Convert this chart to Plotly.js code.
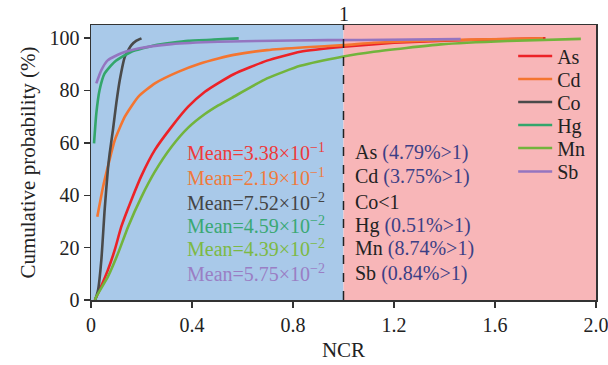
<!DOCTYPE html>
<html><head><meta charset="utf-8">
<script src="https://cdn.plot.ly/plotly-3.0.1.min.js"></script>
<style>html,body{margin:0;padding:0;background:#fff;}#chart{width:608px;height:365px;}</style>
</head><body><div id="chart"></div>
<script>
const seriesNames = ['As','Cd','Co','Hg','Mn','Sb'];
const seriesColors = ['#ec2227','#f47530','#4a4a4a','#33a66b','#72b43c','#9475c0'];

const asX = [0.015,0.028,0.067,0.094,0.12,0.16,0.2,0.253,0.319,0.385,0.451,0.504,0.565,0.697,0.829,1.0,1.2,1.4,1.6,1.8];
const asY = [0,2.6,11.5,19.1,28,38.2,47.5,57.3,66.1,73.8,79.5,82.8,86.2,91.4,94.8,96.7,98.2,99.0,99.5,99.9];
const cdX = [0.025,0.048,0.067,0.094,0.134,0.187,0.253,0.345,0.433,0.504,0.565,0.697,0.85,1.0,1.12,1.3,1.5,1.79];
const cdY = [31.8,43.3,51,61,70,77.6,82.7,87.1,90.3,92.2,93.6,95.4,96.5,97.3,98.2,98.9,99.4,99.9];
const coX = [0.017,0.028,0.041,0.054,0.067,0.074,0.087,0.1,0.114,0.134,0.16,0.18,0.2];
const coY = [0,3.8,15.3,34.4,50,56,65,75,84,92.9,97.3,99,99.9];
const hgX = [0.012,0.021,0.034,0.054,0.094,0.16,0.253,0.385,0.504,0.585];
const hgY = [59.8,71.2,80.2,86.5,91,94.8,97.3,99,99.5,99.9];
const mnX = [0.016,0.021,0.067,0.107,0.147,0.2,0.253,0.319,0.385,0.451,0.504,0.565,0.697,0.829,1.0,1.12,1.385,1.65,1.94];
const mnY = [0,1.3,8.9,17.8,28,39.4,49,58.5,65.8,71,74.3,77.6,84.6,89.4,93,94.8,97.6,98.9,99.7];
const sbX = [0.021,0.041,0.067,0.12,0.187,0.319,0.504,0.8,1.07,1.464];
const sbY = [82.7,87.8,91.6,94.2,96,97.7,98.6,99.1,99.3,99.6];

const xTickVals = [0,0.4,0.8,1.2,1.6,2.0];
const xTickText = ['0','0.4','0.8','1.2','1.6','2.0'];
const yTickVals = [0,20,40,60,80,100];

const meanLabels = ['Mean=3.38×10<sup>−1</sup>','Mean=2.19×10<sup>−1</sup>','Mean=7.52×10<sup>−2</sup>','Mean=4.59×10<sup>−2</sup>','Mean=4.39×10<sup>−2</sup>','Mean=5.75×10<sup>−2</sup>'];
const meanColors = ['#ee3a3a','#f07a3c','#444444','#3aa874','#7cb944','#9a7ec4'];
const exceedNames = ['As','Cd','Co&lt;1','Hg','Mn','Sb'];
const exceedPct = [' (4.79%&gt;1)',' (3.75%&gt;1)','',' (0.51%&gt;1)',' (8.74%&gt;1)',' (0.84%&gt;1)'];
const labelRowsY = [56.4,47.1,37.5,28.6,19.7,10.2];

const xs = [asX,cdX,coX,hgX,mnX,sbX];
const ys = [asY,cdY,coY,hgY,mnY,sbY];
const FONT = '"Liberation Serif", "Times New Roman", serif';

// each legend entry in its own legend so rows can be spaced like the reference
const legendRowsPx = [56,79,102,125,148,171.5];
const legendIds = ['legend','legend2','legend3','legend4','legend5','legend6'];

const traces = seriesNames.map((n,i)=>({
  x: xs[i], y: ys[i], name: n, type:'scatter', mode:'lines',
  legend: legendIds[i],
  line:{color:seriesColors[i], width:2.6, shape:'spline', smoothing:0.5}
}));

const annotations = [];
meanLabels.forEach((t,i)=>{
  annotations.push({x:0.372, y:labelRowsY[i], xref:'x', yref:'y', xanchor:'left', yanchor:'middle',
    text:t, showarrow:false, font:{family:FONT, size:20, color:meanColors[i]}});
  annotations.push({x:1.038, y:labelRowsY[i], xref:'x', yref:'y', xanchor:'left', yanchor:'middle',
    text:exceedNames[i] + (exceedPct[i] ? '<span style="color:#3c3f86">'+exceedPct[i]+'</span>' : ''),
    showarrow:false, font:{family:FONT, size:20, color:'#222'}});
});
annotations.push({x:1, y:1, xref:'x', yref:'paper', xanchor:'center', yanchor:'bottom', yshift:-2,
  text:'1', showarrow:false, font:{family:FONT, size:20, color:'#222'}});

const layout = {
  width:608, height:365,
  margin:{l:91, r:12, t:25, b:65},
  paper_bgcolor:'#ffffff', plot_bgcolor:'#ffffff',
  font:{family:FONT, size:20, color:'#222'},
  showlegend:true,
  xaxis:{range:[0,2], tickvals:xTickVals, ticktext:xTickText, ticks:'outside', ticklen:6, tickwidth:1.3,
    ticklabeloverflow:'allow',
    tickcolor:'#333', showline:true, linecolor:'#333', linewidth:1.5, mirror:true, showgrid:false, zeroline:false,
    title:{text:'NCR', font:{family:FONT, size:21}, standoff:8}, tickfont:{family:FONT, size:20}},
  yaxis:{range:[0,105], tickvals:yTickVals, ticks:'outside', ticklen:6, tickwidth:1.3,
    tickcolor:'#333', showline:true, linecolor:'#333', linewidth:1.5, mirror:true, showgrid:false, zeroline:false,
    title:{text:'Cumulative probability (%)', font:{family:FONT, size:21}, standoff:8}, tickfont:{family:FONT, size:20}},
  shapes:[
    {type:'rect', xref:'x', yref:'paper', x0:0, x1:1, y0:0, y1:1, fillcolor:'#a9c9e9', line:{width:0}, layer:'below'},
    {type:'rect', xref:'x', yref:'paper', x0:1, x1:2, y0:0, y1:1, fillcolor:'#f8b6b8', line:{width:0}, layer:'below'},
    {type:'line', xref:'x', yref:'paper', x0:1, x1:1, y0:0, y1:1, line:{color:'#222', width:1.5, dash:'dash'}}
  ],
  annotations:annotations
};
legendIds.forEach((id,i)=>{
  layout[id] = {x:0.836, xanchor:'left', y:(300-legendRowsPx[i])/275, yanchor:'middle',
    bgcolor:'rgba(0,0,0,0)', borderwidth:0, itemwidth:34,
    font:{family:FONT, size:20, color:'#222'}};
});
Plotly.newPlot('chart', traces, layout, {displayModeBar:false, staticPlot:true});
</script></body></html>
